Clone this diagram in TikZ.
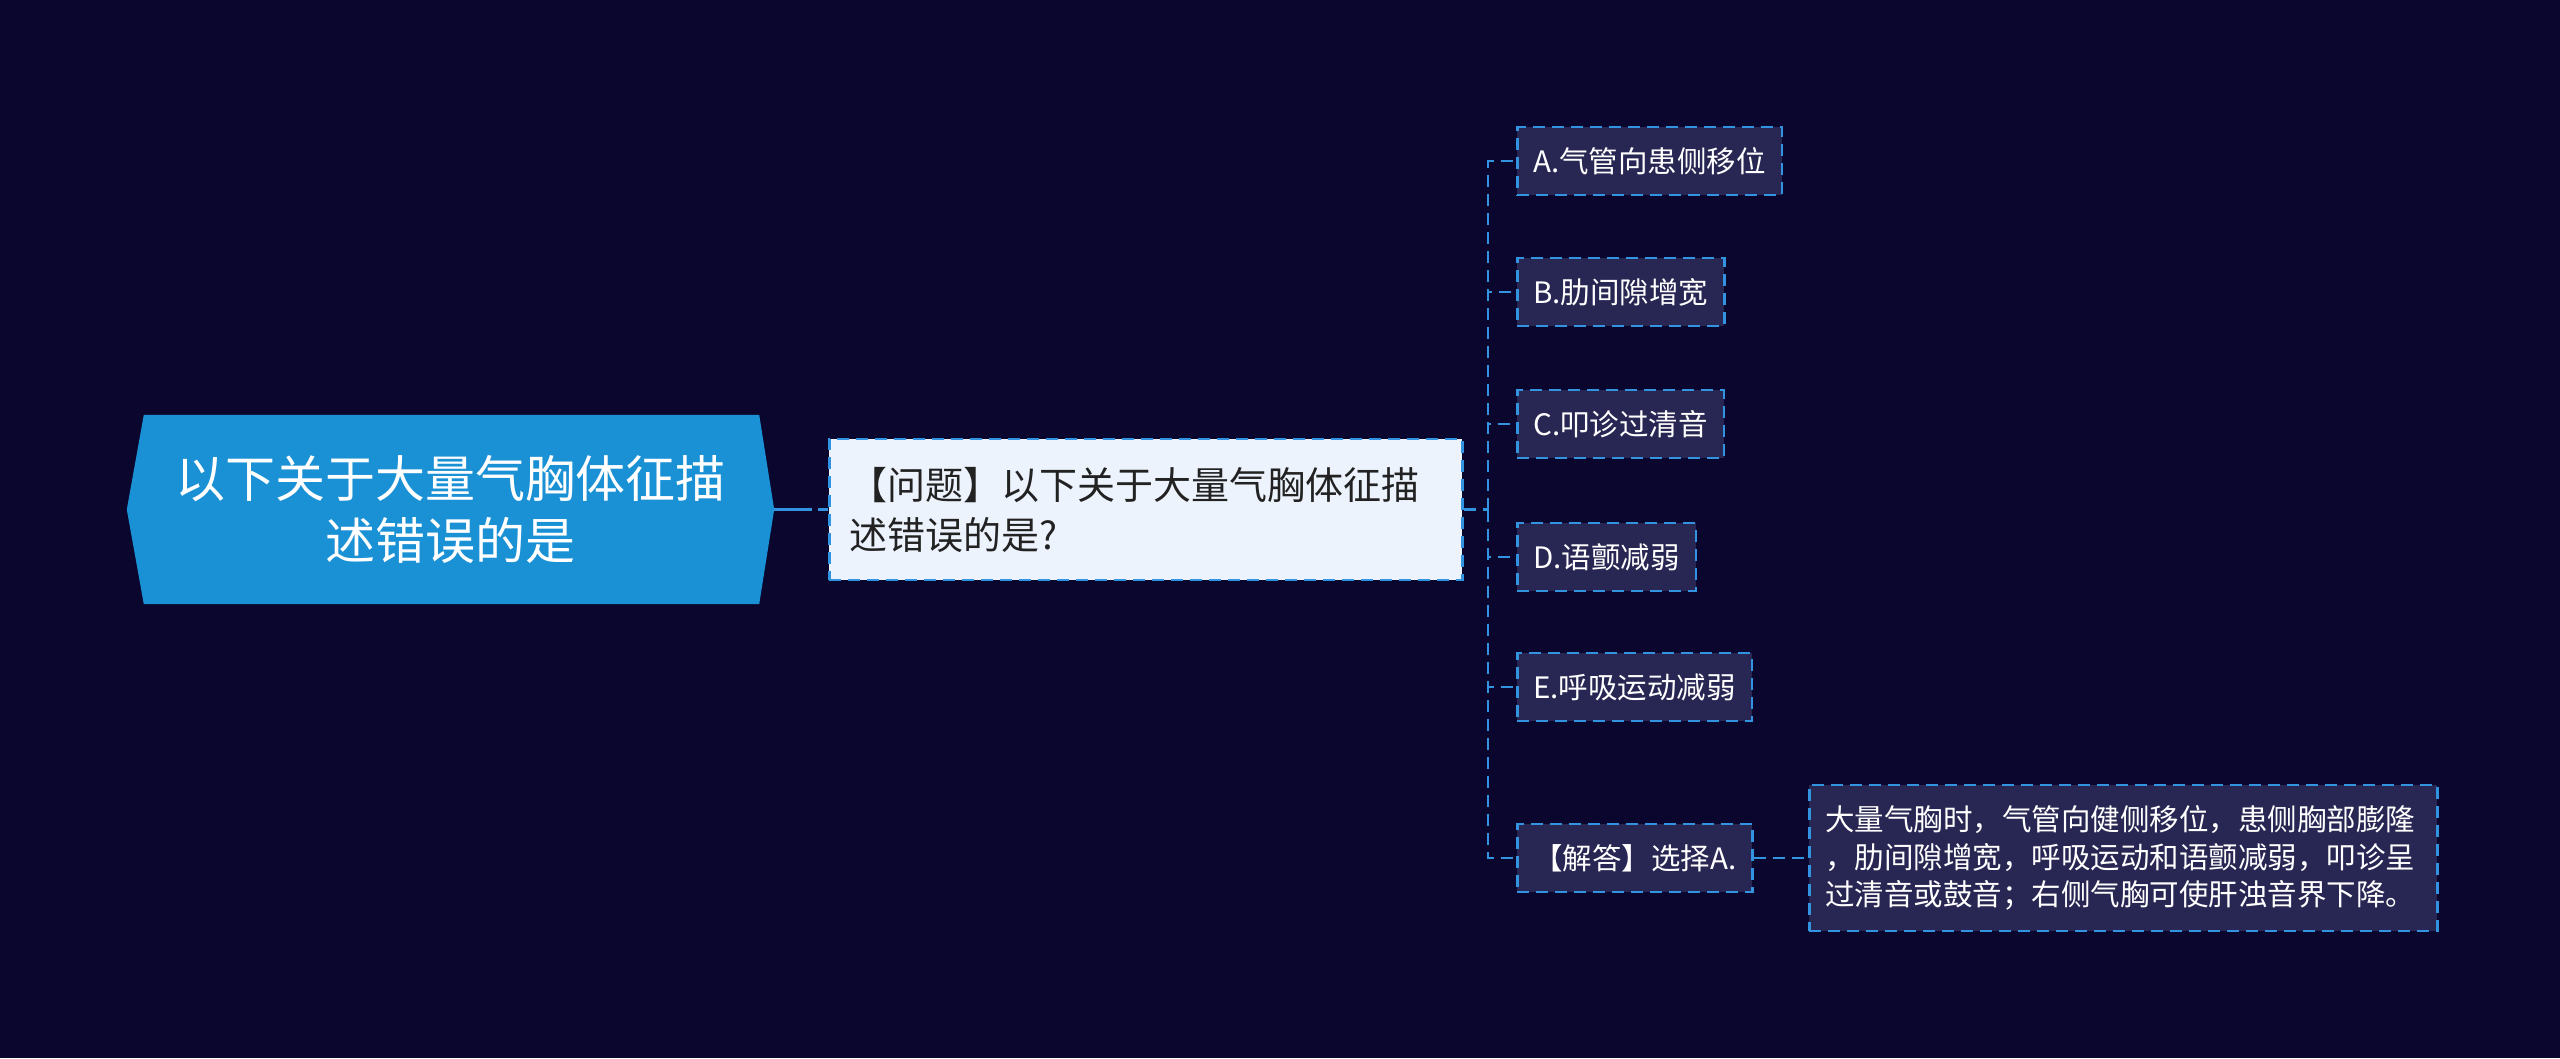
\documentclass[tikz,border=0pt]{standalone}
\usepackage{fontspec}
\newfontfamily\cjk{Noto Sans CJK SC}
\usetikzlibrary{positioning,backgrounds}
\definecolor{bgnavy}{RGB}{10,6,46}
\definecolor{topicblue}{RGB}{26,144,213}
\definecolor{dashblue}{RGB}{50,148,225}
\definecolor{optfill}{RGB}{40,38,82}
\definecolor{qfill}{RGB}{237,243,253}
\definecolor{qtext}{RGB}{34,34,34}
\def\trunkx{1488}
\def\optx{1516}

\begin{document}
\begin{tikzpicture}[x=1pt,y=-1pt,font=\cjk]
    \tikzstyle{link}=[draw=dashblue,line width=2.6pt,dash pattern=on 12pt off 7pt]
    \tikzstyle{topic}=[text=white,align=center,minimum width=647pt,minimum height=189pt,inner sep=0pt,font=\cjk\fontsize{50}{62}\selectfont]
    \tikzstyle{question}=[link,fill=qfill,text=qtext,align=left,text width=593pt,inner xsep=20pt,minimum height=141pt,font=\cjk\fontsize{38}{50}\selectfont]
    \tikzstyle{option}=[link,fill=optfill,text=white,inner xsep=16pt,minimum height=68pt,font=\cjk\fontsize{29.5}{37.5}\selectfont]
    \tikzstyle{answer}=[option,align=left,text width=596pt,minimum height=146pt]

    \useasboundingbox (0,0) rectangle (2560,1058);

    % Draw the topic node
    \node[topic] (T) at (450.5,509.5) {以下关于大量气胸体征描\\述错误的是};

    % Background and the hexagon behind the topic
    \begin{scope}[on background layer]
        \fill[bgnavy] (0,0) rectangle (2560,1058);
        \fill[topicblue] (T.west) -- ([xshift=17pt]T.north west) -- ([xshift=-15pt]T.north east)
            -- (T.east) -- ([xshift=-15pt]T.south east) -- ([xshift=17pt]T.south west) -- cycle;
    \end{scope}

    % Draw the question node
    \node[question, anchor=west] (Q) at (828,509.5) {【问题】以下关于大量气胸体征描\\述错误的是?};
    \coordinate (fork) at (\trunkx,509.5);

    % Draw the option nodes
    \foreach \name / \y / \txt in {A/161/A.气管向患侧移位, B/292/B.肋间隙增宽, C/424/C.叩诊过清音, D/557/D.语颤减弱, E/687/E.呼吸运动减弱}
        \node[option, anchor=west] (O-\name) at (\optx,\y) {\txt};
    \node[option, anchor=west] (O-ans) at (\optx,858) {【解答】选择A.};
    \node[answer, anchor=west] (X) at (1808,858) {大量气胸时，气管向健侧移位，患侧胸部膨隆\\，肋间隙增宽，呼吸运动和语颤减弱，叩诊呈\\过清音或鼓音；右侧气胸可使肝浊音界下降。};

    % Connect the nodes
    \draw[link, dash pattern=on 38pt off 6pt] (T.east) -- (Q.west);
    \draw[link] (Q.east) -- (fork);
    \foreach \name in {A,...,E}
        \draw[link] (fork) |- (O-\name.west);
    \draw[link] (fork) |- (O-ans.west);
    \draw[link] (O-ans) -- (X);
\end{tikzpicture}
\end{document}
